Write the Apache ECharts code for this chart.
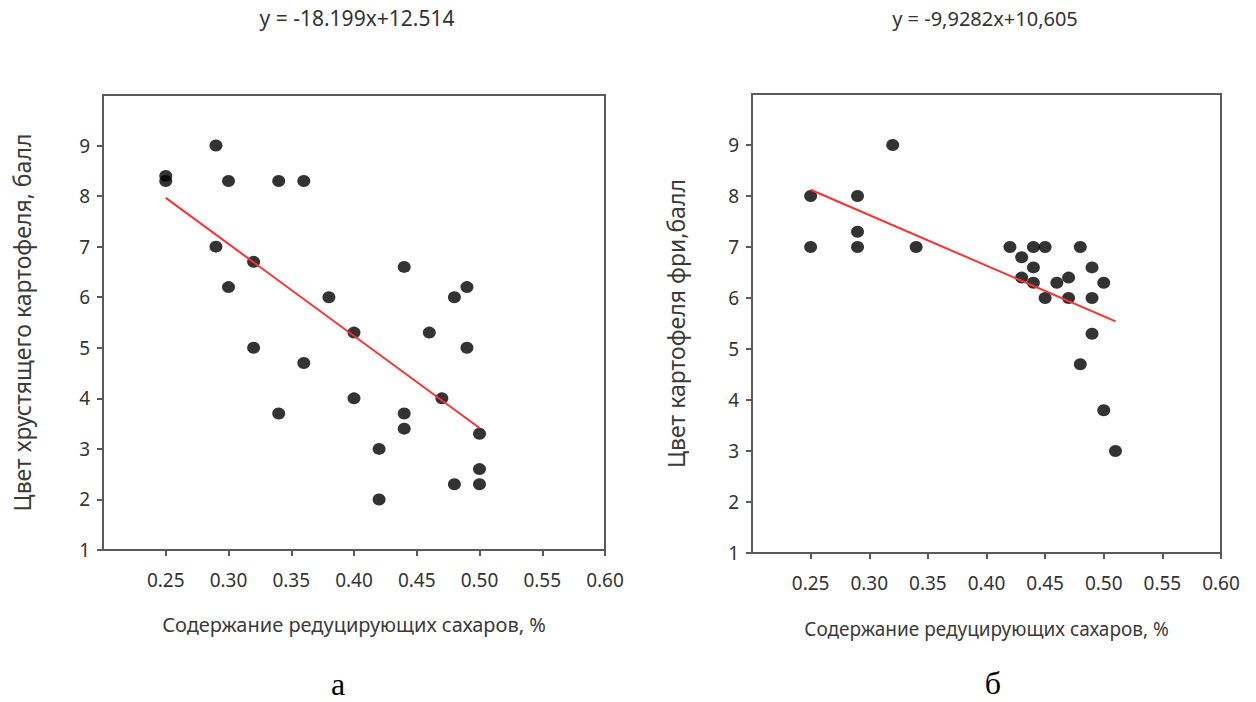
<!DOCTYPE html>
<html>
<head>
<meta charset="utf-8">
<style>
  html, body { margin: 0; padding: 0; background: #ffffff; }
  #chart { width: 1256px; height: 702px; }
</style>
<script src="https://cdn.jsdelivr.net/npm/echarts@6/dist/echarts.min.js"></script>
</head>
<body>
<div id="chart"></div>
<script>
// Panel "а": crisp potato colour vs reducing sugars
const sugarA = [0.25, 0.25, 0.29, 0.30, 0.34, 0.36, 0.29, 0.32, 0.30, 0.38, 0.40, 0.44, 0.48, 0.49,
                0.46, 0.49, 0.32, 0.36, 0.40, 0.47, 0.34, 0.44, 0.44, 0.42, 0.50, 0.50, 0.48, 0.50, 0.42];
const colorA = [8.4, 8.3, 9.0, 8.3, 8.3, 8.3, 7.0, 6.7, 6.2, 6.0, 5.3, 6.6, 6.0, 6.2,
                5.3, 5.0, 5.0, 4.7, 4.0, 4.0, 3.7, 3.7, 3.4, 3.0, 3.3, 2.6, 2.3, 2.3, 2.0];
const slopeA = -18.199;
const interceptA = 12.514;
const fitRangeA = [0.25, 0.50];

// Panel "б": french fries colour vs reducing sugars
const sugarB = [0.25, 0.25, 0.29, 0.29, 0.29, 0.32, 0.34, 0.42, 0.43, 0.43, 0.44, 0.44, 0.44,
                0.45, 0.45, 0.46, 0.47, 0.47, 0.48, 0.48, 0.49, 0.49, 0.49, 0.50, 0.50, 0.51];
const colorB = [8.0, 7.0, 8.0, 7.3, 7.0, 9.0, 7.0, 7.0, 6.8, 6.4, 7.0, 6.6, 6.3,
                7.0, 6.0, 6.3, 6.4, 6.0, 7.0, 4.7, 6.6, 6.0, 5.3, 6.3, 3.8, 3.0];
const slopeB = -9.9282;
const interceptB = 10.605;
const fitRangeB = [0.25, 0.51];

// Axis ticks and labels
const xTicks = [0.25, 0.30, 0.35, 0.40, 0.45, 0.50, 0.55, 0.60];
const yTicks = [1, 2, 3, 4, 5, 6, 7, 8, 9];

const xNameText = 'Содержание редуцирующих сахаров, %';
const yNameA = 'Цвет хрустящего картофеля, балл';
const yNameB = 'Цвет картофеля фри,балл';
const panelLetters = ['а', 'б'];

const eqA = 'y = ' + slopeA + 'x+' + interceptA;
const eqB = ('y = ' + slopeB + 'x+' + interceptB).replace(/\./g, ',');

const FONT = '"Noto Sans", "Open Sans", sans-serif';
const SERIF = '"Liberation Serif", "DejaVu Serif", serif';
const AXIS_COLOR = '#5a5a5a';
const TEXT_COLOR = '#333333';

function pairs(xs, ys) { return xs.map((x, i) => [x, ys[i]]); }
function fitLine(slope, intercept, range) {
  return range.map(x => [x, slope * x + intercept]);
}

function xAxisFor(gridIndex, nameSize, nameGap) {
  return {
    type: 'value', gridIndex, min: 0.2, max: 0.6, interval: 0.05,
    name: xNameText, nameLocation: 'middle', nameGap,
    nameTextStyle: { fontFamily: FONT, fontSize: nameSize, color: '#3a3a3a' },
    axisLine: { show: true, lineStyle: { color: AXIS_COLOR, width: 2 } },
    axisTick: { show: true, inside: false, length: 6, customValues: xTicks,
                lineStyle: { color: AXIS_COLOR, width: 2 } },
    axisLabel: { customValues: xTicks, margin: 20, fontFamily: FONT, fontSize: 19, color: TEXT_COLOR,
                 formatter: v => v.toFixed(2) },
    splitLine: { show: false }
  };
}
function yAxisFor(gridIndex, name, nameSize, nameGap) {
  return {
    type: 'value', gridIndex, min: 1, max: 10, interval: 1,
    name, nameLocation: 'middle', nameGap,
    nameTextStyle: { fontFamily: FONT, fontSize: nameSize, color: '#3a3a3a' },
    axisLine: { show: true, lineStyle: { color: AXIS_COLOR, width: 2 } },
    axisTick: { show: true, inside: false, length: 6, customValues: yTicks,
                lineStyle: { color: AXIS_COLOR, width: 2 } },
    axisLabel: { customValues: yTicks, margin: 13, fontFamily: FONT, fontSize: 19, color: TEXT_COLOR,
                 formatter: v => String(v) },
    splitLine: { show: false }
  };
}

const chart = echarts.init(document.getElementById('chart'), null, { renderer: 'svg' });
chart.setOption({
  backgroundColor: '#ffffff',
  animation: false,
  grid: [
    { left: 103, top: 95, width: 502, height: 455, show: true, borderColor: AXIS_COLOR, borderWidth: 2, backgroundColor: 'transparent' },
    { left: 752, top: 94, width: 469, height: 459, show: true, borderColor: AXIS_COLOR, borderWidth: 2, backgroundColor: 'transparent' }
  ],
  xAxis: [xAxisFor(0, 20, 64), xAxisFor(1, 19, 66)],
  yAxis: [yAxisFor(0, yNameA, 23, 70), yAxisFor(1, yNameB, 23, 65)],
  graphic: [
    { type: 'text', x: 357, y: 18, style: { text: eqA, fontFamily: FONT, fontSize: 21, fill: '#333', align: 'center', verticalAlign: 'middle' } },
    { type: 'text', x: 985, y: 18, style: { text: eqB, fontFamily: FONT, fontSize: 20, fill: '#333', align: 'center', verticalAlign: 'middle' } },
    { type: 'text', x: 338, y: 684, style: { text: panelLetters[0], fontFamily: SERIF, fontSize: 32, fill: '#000', align: 'center', verticalAlign: 'middle' } },
    { type: 'text', x: 993, y: 683, style: { text: panelLetters[1], fontFamily: SERIF, fontSize: 32, fill: '#000', align: 'center', verticalAlign: 'middle' } }
  ],
  series: [
    { type: 'scatter', xAxisIndex: 0, yAxisIndex: 0, data: pairs(sugarA, colorA),
      symbol: 'circle', symbolSize: [13, 12], itemStyle: { color: '#000' }, z: 3 },
    { type: 'line', xAxisIndex: 0, yAxisIndex: 0, data: fitLine(slopeA, interceptA, fitRangeA),
      showSymbol: false, lineStyle: { color: '#ff3030', width: 2 }, z: 4 },
    { type: 'scatter', xAxisIndex: 1, yAxisIndex: 1, data: pairs(sugarB, colorB),
      symbol: 'circle', symbolSize: [13, 12], itemStyle: { color: '#000' }, z: 3 },
    { type: 'line', xAxisIndex: 1, yAxisIndex: 1, data: fitLine(slopeB, interceptB, fitRangeB),
      showSymbol: false, lineStyle: { color: '#ff3030', width: 2 }, z: 4 }
  ]
});
</script>
</body>
</html>
